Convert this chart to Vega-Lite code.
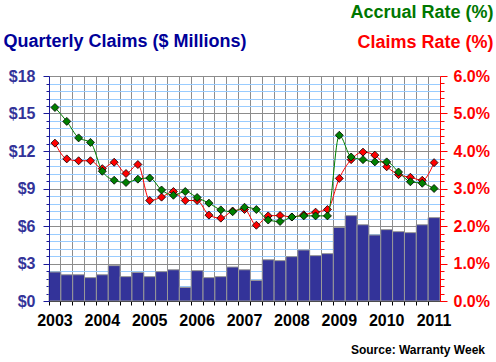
{
  "$schema": "https://vega.github.io/schema/vega-lite/v6.json",
  "width": 391,
  "height": 225,
  "autosize": {"type": "none"},
  "padding": {"left": 49, "top": 76, "right": 56, "bottom": 61},
  "background": "white",
  "title": {"text": "Source: Warranty Week", "orient": "bottom", "anchor": "end", "frame": "group", "font": "Liberation Sans", "fontSize": 12, "fontWeight": "bold", "color": "#000000", "offset": 17, "dx": 45, "baseline": "top"},
  "config": {
    "view": {"stroke": null},
    "axis": {"labelFont": "Liberation Sans", "labelFontWeight": "bold", "titleFont": "Liberation Sans", "titleFontWeight": "bold"}
  },
  "data": {
    "values": [
      {"q": "2003Q1", "claims": 2.32, "claimsRate": 4.21, "accrualRate": 5.16},
      {"q": "2003Q2", "claims": 2.1, "claimsRate": 3.79, "accrualRate": 4.79},
      {"q": "2003Q3", "claims": 2.1, "claimsRate": 3.74, "accrualRate": 4.35},
      {"q": "2003Q4", "claims": 1.87, "claimsRate": 3.74, "accrualRate": 4.23},
      {"q": "2004Q1", "claims": 2.1, "claimsRate": 3.53, "accrualRate": 3.46},
      {"q": "2004Q2", "claims": 2.83, "claimsRate": 3.7, "accrualRate": 3.22},
      {"q": "2004Q3", "claims": 1.95, "claimsRate": 3.4, "accrualRate": 3.16},
      {"q": "2004Q4", "claims": 2.29, "claimsRate": 3.64, "accrualRate": 3.25},
      {"q": "2005Q1", "claims": 1.95, "claimsRate": 2.68, "accrualRate": 3.28},
      {"q": "2005Q2", "claims": 2.35, "claimsRate": 2.77, "accrualRate": 2.96},
      {"q": "2005Q3", "claims": 2.5, "claimsRate": 2.92, "accrualRate": 2.82},
      {"q": "2005Q4", "claims": 1.09, "claimsRate": 2.68, "accrualRate": 2.92},
      {"q": "2006Q1", "claims": 2.43, "claimsRate": 2.68, "accrualRate": 2.76},
      {"q": "2006Q2", "claims": 1.87, "claimsRate": 2.29, "accrualRate": 2.61},
      {"q": "2006Q3", "claims": 1.95, "claimsRate": 2.21, "accrualRate": 2.43},
      {"q": "2006Q4", "claims": 2.72, "claimsRate": 2.4, "accrualRate": 2.38},
      {"q": "2007Q1", "claims": 2.5, "claimsRate": 2.44, "accrualRate": 2.5},
      {"q": "2007Q2", "claims": 1.65, "claimsRate": 2.02, "accrualRate": 2.44},
      {"q": "2007Q3", "claims": 3.3, "claimsRate": 2.27, "accrualRate": 2.16},
      {"q": "2007Q4", "claims": 3.23, "claimsRate": 2.28, "accrualRate": 2.12},
      {"q": "2008Q1", "claims": 3.55, "claimsRate": 2.24, "accrualRate": 2.24},
      {"q": "2008Q2", "claims": 4.08, "claimsRate": 2.3, "accrualRate": 2.27},
      {"q": "2008Q3", "claims": 3.63, "claimsRate": 2.37, "accrualRate": 2.27},
      {"q": "2008Q4", "claims": 3.79, "claimsRate": 2.44, "accrualRate": 2.27},
      {"q": "2009Q1", "claims": 5.89, "claimsRate": 3.27, "accrualRate": 4.42},
      {"q": "2009Q2", "claims": 6.83, "claimsRate": 3.77, "accrualRate": 3.84},
      {"q": "2009Q3", "claims": 6.1, "claimsRate": 3.97, "accrualRate": 3.77},
      {"q": "2009Q4", "claims": 5.28, "claimsRate": 3.89, "accrualRate": 3.71},
      {"q": "2010Q1", "claims": 5.71, "claimsRate": 3.58, "accrualRate": 3.71},
      {"q": "2010Q2", "claims": 5.55, "claimsRate": 3.37, "accrualRate": 3.44},
      {"q": "2010Q3", "claims": 5.47, "claimsRate": 3.3, "accrualRate": 3.18},
      {"q": "2010Q4", "claims": 6.1, "claimsRate": 3.22, "accrualRate": 3.14},
      {"q": "2011Q1", "claims": 6.67, "claimsRate": 3.69, "accrualRate": 3.0}
    ]
  },
  "layer": [
    {
      "mark": {"type": "bar", "opacity": 0},
      "encoding": {
        "x": {"field": "q", "type": "ordinal", "sort": null, "scale": {"paddingInner": 0, "paddingOuter": 0},
          "axis": {"orient": "bottom", "bandPosition": 0, "grid": true, "gridColor": "#8c8c8c", "gridWidth": 1,
            "ticks": true, "tickColor": "#000000", "tickSize": 4, "domain": true, "domainColor": "#000000",
            "labels": false, "title": null}},
        "y": {"field": "claims", "type": "quantitative", "scale": {"domain": [0, 18], "nice": false},
          "axis": {"orient": "left", "values": [0.6, 1.2, 1.8, 2.4, 3.6, 4.2, 4.8, 5.4, 6.6, 7.2, 7.8, 8.4, 9.6, 10.2, 10.8, 11.4, 12.6, 13.2, 13.8, 14.4, 15.6, 16.2, 16.8, 17.4],
            "grid": true, "gridColor": "#99ccff", "labels": false, "domain": false, "ticks": true, "tickSize": 3, "tickColor": "#1a1a99", "title": null}}
      }
    },
    {
      "mark": {"type": "bar", "opacity": 0},
      "encoding": {
        "x": {"field": "q", "type": "ordinal", "sort": null, "scale": {"paddingInner": 0, "paddingOuter": 0},
          "axis": {"orient": "bottom", "grid": false, "ticks": false, "domain": false,
            "labelAngle": 0, "labelOverlap": false, "labelFontSize": 16, "labelColor": "#000000", "labelPadding": 11,
            "labelExpr": "slice(datum.value, 4) == 'Q1' ? slice(datum.value, 0, 4) : ''", "title": null}},
        "y": {"field": "claims", "type": "quantitative", "scale": {"domain": [0, 18], "nice": false},
          "axis": {"orient": "left", "values": [0, 3, 6, 9, 12, 15, 18],
            "grid": true, "gridColor": "#8c8c8c", "labels": false, "domain": false, "ticks": false, "title": null}}
      }
    },
    {
      "mark": {"type": "bar", "color": "#333399", "stroke": "#999999", "strokeWidth": 1},
      "encoding": {
        "x": {"field": "q", "type": "ordinal", "sort": null, "scale": {"paddingInner": 0, "paddingOuter": 0}, "axis": null},
        "y": {"field": "claims", "type": "quantitative", "scale": {"domain": [0, 18], "nice": false},
          "axis": {"orient": "left", "values": [0, 3, 6, 9, 12, 15, 18], "zindex": 1,
            "grid": false, "domain": true, "domainColor": "#1a1a99", "ticks": true, "tickSize": 6, "tickColor": "#1a1a99",
            "labelExpr": "'$' + datum.value", "labelFontSize": 16, "labelColor": "#333399", "labelPadding": 8,
            "title": "Quarterly Claims ($ Millions)", "titleFontSize": 18, "titleColor": "#000099", "titleAngle": 0,
            "titleX": -46, "titleY": -30, "titleAlign": "left", "titleBaseline": "alphabetic"}}
      }
    },
    {
      "mark": {"type": "line", "color": "#ff0000", "strokeWidth": 1, "interpolate": "monotone",
        "point": {"shape": "diamond", "size": 64, "filled": true, "fill": "#ff0000", "stroke": "#000000", "strokeWidth": 0.8, "opacity": 1}},
      "encoding": {
        "x": {"field": "q", "type": "ordinal", "sort": null, "scale": {"paddingInner": 0, "paddingOuter": 0}, "axis": null},
        "y": {"field": "claimsRate", "type": "quantitative", "scale": {"domain": [0, 6], "nice": false},
          "axis": {"orient": "right", "values": [0, 1, 2, 3, 4, 5, 6], "zindex": 1,
            "grid": false, "domain": true, "domainColor": "#ff0000", "ticks": true, "tickSize": 7, "tickColor": "#ff0000",
            "labelExpr": "format(datum.value, '.1f') + '%'", "labelFontSize": 16, "labelColor": "#ff0000", "labelPadding": 6,
            "title": "Claims Rate (%)", "titleFontSize": 18, "titleColor": "#ff0000", "titleAngle": 0,
            "titleX": 53, "titleY": -29, "titleAlign": "right", "titleBaseline": "alphabetic"}}
      }
    },
    {
      "mark": {"type": "line", "color": "#007f00", "strokeWidth": 1, "interpolate": "monotone",
        "point": {"shape": "diamond", "size": 64, "filled": true, "fill": "#008000", "stroke": "#000000", "strokeWidth": 0.8, "opacity": 1}},
      "encoding": {
        "x": {"field": "q", "type": "ordinal", "sort": null, "scale": {"paddingInner": 0, "paddingOuter": 0}, "axis": null},
        "y": {"field": "accrualRate", "type": "quantitative", "scale": {"domain": [0, 6], "nice": false},
          "axis": {"orient": "right", "values": [0.2, 0.4, 0.6, 0.8, 1.2, 1.4, 1.6, 1.8, 2.2, 2.4, 2.6, 2.8, 3.2, 3.4, 3.6, 3.8, 4.2, 4.4, 4.6, 4.8, 5.2, 5.4, 5.6, 5.8], "zindex": 1,
            "grid": false, "domain": false, "ticks": true, "tickSize": 4, "tickColor": "#ff0000", "labels": false,
            "title": "Accrual Rate (%)", "titleFontSize": 18, "titleColor": "#007700", "titleAngle": 0,
            "titleX": 53, "titleY": -59, "titleAlign": "right", "titleBaseline": "alphabetic"}}
      }
    }
  ],
  "resolve": {"scale": {"y": "independent"}, "axis": {"x": "independent"}}
}
